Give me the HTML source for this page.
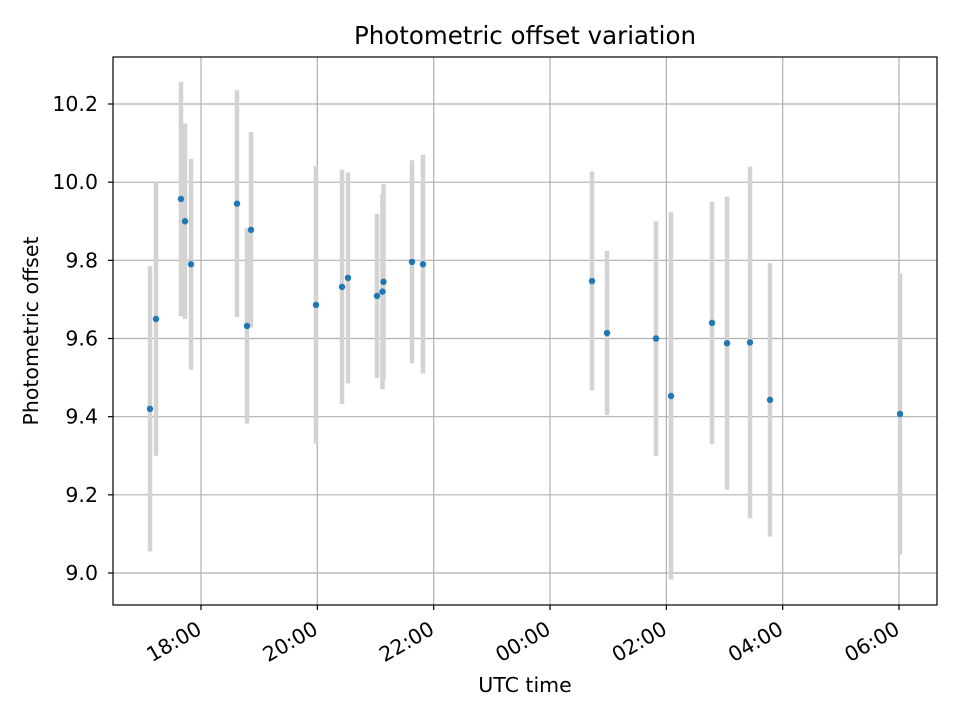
<!DOCTYPE html>
<html><head><meta charset="utf-8"><style>
body{margin:0;background:#fff}
svg{display:block;font-family:"DejaVu Sans","Liberation Sans",sans-serif}
</style></head><body>
<svg id="chart" width="960" height="720" viewBox="0 0 960 720">
<rect x="0" y="0" width="960" height="720" fill="#fff"/>
<g id="grid"></g>
<g id="bars"></g>
<g id="pts"></g>
<g id="axes"></g>
<text x="525" y="44" text-anchor="middle" font-size="24.5" fill="#000">Photometric offset variation</text>
<text x="525" y="692" text-anchor="middle" font-size="20.5" fill="#000">UTC time</text>
<text transform="translate(38,331) rotate(-90)" text-anchor="middle" font-size="20.5" fill="#000">Photometric offset</text>
</svg>
<script>
// hours since 00:00 of first day
const times = [17.123,17.226,17.656,17.725,17.828,18.619,18.791,18.860,19.977,20.424,20.527,21.026,21.120,21.137,21.627,21.816,24.722,24.980,25.822,26.080,26.785,27.043,27.438,27.782,30.017];
const values = [9.42,9.65,9.957,9.90,9.79,9.945,9.632,9.878,9.686,9.732,9.755,9.709,9.72,9.745,9.796,9.79,9.747,9.614,9.60,9.453,9.64,9.588,9.59,9.443,9.407];
const errors = [0.365,0.35,0.30,0.25,0.27,0.29,0.25,0.25,0.355,0.30,0.27,0.21,0.25,0.25,0.26,0.28,0.28,0.21,0.30,0.47,0.31,0.375,0.45,0.35,0.36];
const xTicks = [18,20,22,24,26,28,30];
const xTickLabels = ["18:00","20:00","22:00","00:00","02:00","04:00","06:00"];
const yTicks = [9.0,9.2,9.4,9.6,9.8,10.0,10.2];
const yTickLabels = ["9.0","9.2","9.4","9.6","9.8","10.0","10.2"];

const L=113,R=937,T=57,B=605;
const xs=t=>201+(t-18)*58.17;
const ys=v=>573-(v-9.0)*390.83;
const NS="http://www.w3.org/2000/svg";
function mk(tag,parent,attrs){const e=document.createElementNS(NS,tag);for(const k in attrs)e.setAttribute(k,attrs[k]);parent.appendChild(e);return e;}
const grid=document.getElementById('grid'),bars=document.getElementById('bars'),pts=document.getElementById('pts'),axes=document.getElementById('axes');
xTicks.forEach((t,i)=>{
  const x=xs(t);
  const g=mk('line',grid,{x1:x,x2:x,y1:T,y2:B,stroke:'#b0b0b0','stroke-width':1.2});
  
  
  const tk=mk('line',axes,{x1:x,x2:x,y1:B,y2:B+5,stroke:'#000','stroke-width':1.2});
  
  
  const tx=mk('text',axes,{transform:`translate(${x+2},${B+28}) rotate(-30)`,'text-anchor':'end','font-size':20.5});
  
  
  tx.textContent=xTickLabels[i];
});
yTicks.forEach((v,i)=>{
  const y=ys(v);
  const g=mk('line',grid,{x1:L,x2:R,y1:y,y2:y,stroke:'#b0b0b0','stroke-width':1.2});
  
  
  const tk=mk('line',axes,{x1:L-5,x2:L,y1:y,y2:y,stroke:'#000','stroke-width':1.2});
  
  
  const tx=mk('text',axes,{x:L-15,y:y+7,'text-anchor':'end','font-size':20.5});
  
  
  tx.textContent=yTickLabels[i];
});
times.forEach((t,i)=>{
  const x=xs(t);
  const b=mk('line',bars,{x1:x,x2:x,y1:ys(values[i]+errors[i]),y2:ys(values[i]-errors[i]),stroke:'#d3d3d3','stroke-width':4.5});
  
  
});
times.forEach((t,i)=>{
  const c=mk('circle',pts,{cx:xs(t),cy:ys(values[i]),r:3.2,fill:'#1f77b4'});
  
  
});
const fr=mk('rect',axes,{x:L,y:T,width:R-L,height:B-T,fill:'none',stroke:'#000','stroke-width':1.2});


</script>
</body></html>
